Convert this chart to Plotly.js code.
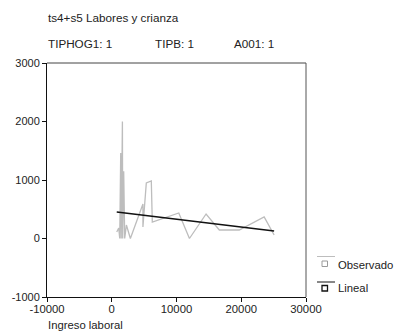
<!DOCTYPE html>
<html>
<head>
<meta charset="utf-8">
<script src="https://cdn.plot.ly/plotly-3.0.1.min.js"></script>
<style>html,body{margin:0;padding:0;background:#fff;}#chart{width:395px;height:334px;}</style>
</head>
<body>
<div id="chart"></div>
<script>
// ---- data ----
const obsX = [770, 1077, 1231, 1385, 1462, 1646, 1692, 1846, 2000, 2262, 2877, 4815, 4815, 5338, 6108, 6262, 10354, 12000, 14569, 16615, 19692, 23538, 25077];
const obsY = [111, 179, 0, 1460, 0, 2000, 0, 1150, 0, 230, 0, 590, 197, 949, 983, 282, 436, 0, 419, 145, 145, 368, 60];
const fitX = [770, 25077];
const fitY = [453, 129];
const xTicks = [-10000, 0, 10000, 20000, 30000];
const yTicks = [-1000, 0, 1000, 2000, 3000];
const titleText = "ts4+s5 Labores y crianza";
const subLabels = ["TIPHOG1: 1", "TIPB: 1", "A001: 1"];
const xTitle = "Ingreso laboral";
const legendNames = ["Observado", "Lineal"];

// ---- layout geometry ----
const W = 395, H = 334;
const M = {l: 47, r: 89, t: 63, b: 37};
const pw = W - M.l - M.r, ph = H - M.t - M.b;
const px = x => (x - M.l) / pw;
const py = y => (H - M.b - y) / ph;
const FONT = "Liberation Sans, Arial, Helvetica, sans-serif";

const traces = [
  {x: obsX, y: obsY, type: 'scatter', mode: 'lines', name: legendNames[0],
   line: {color: '#bdbdbd', width: 1.3}, hoverinfo: 'skip'},
  {x: fitX, y: fitY, type: 'scatter', mode: 'lines', name: legendNames[1],
   line: {color: '#111111', width: 1.6}, hoverinfo: 'skip'}
];

const ann = [];
const txt = (t, x, y, size, anchor) => ann.push({text: t, xref: 'paper', yref: 'paper', x: px(x), y: py(y),
  xanchor: anchor || 'left', yanchor: 'middle', showarrow: false, font: {family: FONT, size: size, color: '#222'}});
txt(titleText, 46, 17, 11.7);
txt(subLabels[0], 46, 43, 11.7);
txt(subLabels[1], 153, 43, 11.7);
txt(subLabels[2], 232, 43, 11.7);
txt(xTitle, 46, 325, 11.3);
txt(legendNames[0], 336, 265, 11.3);
txt(legendNames[1], 336, 288, 11.3);

const shapes = [];
const ln = (x0, y0, x1, y1, c) => shapes.push({type: 'line', xref: 'paper', yref: 'paper',
  x0: px(x0), y0: py(y0), x1: px(x1), y1: py(y1), line: {color: c, width: 1}});
const box = (x0, y0, x1, y1, c, w) => shapes.push({type: 'rect', xref: 'paper', yref: 'paper',
  x0: px(x0), y0: py(y0), x1: px(x1), y1: py(y1), line: {color: c, width: w}});
ln(317, 256.5, 335, 256.5, '#bdbdbd');
box(322, 261, 327.5, 266.5, '#9a9a9a', 1);
ln(317, 282, 335, 282, '#111');
box(322, 285.5, 327.5, 291, '#111', 1.3);
// frame top/right
ln(M.l, M.t, W - M.r, M.t, '#444');
ln(W - M.r, M.t, W - M.r, H - M.b, '#555');

const layout = {
  width: W, height: H,
  margin: M,
  paper_bgcolor: '#fff', plot_bgcolor: '#fff',
  showlegend: false,
  font: {family: FONT, size: 11, color: '#222'},
  xaxis: {range: [-10000, 30000], tickvals: xTicks, ticktext: xTicks.map(String),
    showgrid: false, zeroline: false, showline: true, linecolor: '#111', linewidth: 1,
    ticks: 'outside', ticklen: 4, tickcolor: '#111', ticklabelstandoff: -3,
    tickfont: {size: 11.3, family: FONT, color: '#222'}},
  yaxis: {range: [-1000, 3000], tickvals: yTicks, ticktext: yTicks.map(String),
    showgrid: false, zeroline: false, showline: true, linecolor: '#111', linewidth: 1,
    ticks: 'outside', ticklen: 4, tickcolor: '#111',
    tickfont: {size: 11, family: FONT, color: '#222'}},
  annotations: ann,
  shapes: shapes
};
Plotly.newPlot('chart', traces, layout, {staticPlot: true, displayModeBar: false});
</script>
</body>
</html>
